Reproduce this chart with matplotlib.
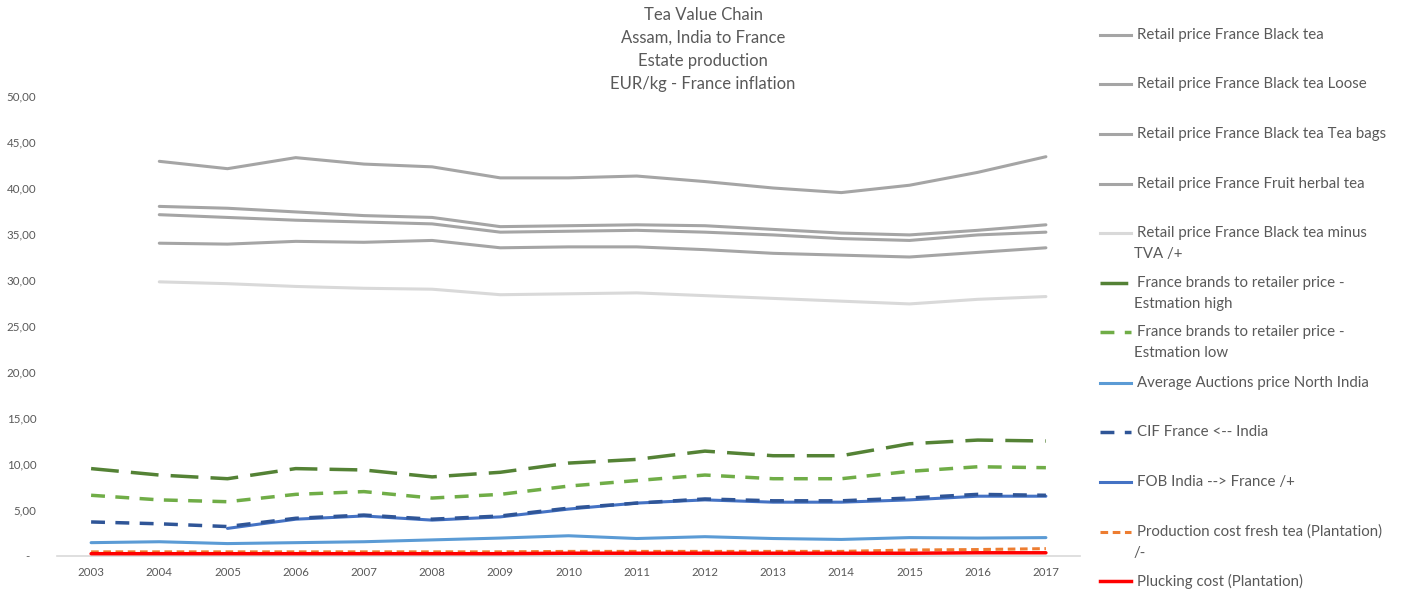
import matplotlib
matplotlib.use("Agg")
import matplotlib.pyplot as plt
from matplotlib.lines import Line2D
import numpy as np

plt.rcParams['font.family'] = ['Lato', 'DejaVu Sans']

years = [str(y) for y in range(2003, 2018)]
N = np.nan

retail_black = [N, 42.9, 42.1, 43.3, 42.6, 42.3, 41.1, 41.1, 41.3, 40.7, 40.0, 39.5, 40.3, 41.7, 43.4]
retail_loose = [N, 38.0, 37.8, 37.4, 37.0, 36.8, 35.8, 35.9, 36.0, 35.9, 35.5, 35.1, 34.9, 35.4, 36.0]
retail_bags = [N, 37.1, 36.8, 36.5, 36.3, 36.1, 35.2, 35.3, 35.4, 35.2, 34.9, 34.5, 34.3, 34.9, 35.2]
retail_fruit = [N, 34.0, 33.9, 34.2, 34.1, 34.3, 33.5, 33.6, 33.6, 33.3, 32.9, 32.7, 32.5, 33.0, 33.5]
retail_minus_tva = [N, 29.8, 29.6, 29.3, 29.1, 29.0, 28.4, 28.5, 28.6, 28.3, 28.0, 27.7, 27.4, 27.9, 28.2]
brands_high = [9.5, 8.8, 8.4, 9.5, 9.35, 8.6, 9.1, 10.1, 10.5, 11.4, 10.9, 10.9, 12.2, 12.6, 12.5]
brands_low = [6.6, 6.1, 5.9, 6.7, 7.0, 6.3, 6.7, 7.6, 8.2, 8.8, 8.4, 8.4, 9.2, 9.7, 9.6]
auctions = [1.45, 1.55, 1.35, 1.45, 1.55, 1.75, 1.95, 2.2, 1.9, 2.1, 1.9, 1.8, 2.0, 1.95, 2.0]
cif = [3.7, 3.5, 3.2, 4.1, 4.45, 4.0, 4.35, 5.2, 5.75, 6.2, 6.0, 6.0, 6.3, 6.7, 6.6]
fob = [N, N, 3.0, 4.0, 4.35, 3.9, 4.25, 5.1, 5.75, 6.1, 5.85, 5.85, 6.1, 6.5, 6.5]
production = [0.45, 0.45, 0.45, 0.45, 0.45, 0.45, 0.45, 0.5, 0.5, 0.5, 0.5, 0.5, 0.65, 0.7, 0.8]
plucking = [0.25, 0.25, 0.25, 0.25, 0.25, 0.25, 0.25, 0.3, 0.3, 0.3, 0.3, 0.3, 0.3, 0.35, 0.35]

labels = [
    "Retail price France Black tea",
    "Retail price France Black tea Loose",
    "Retail price France Black tea Tea bags",
    "Retail price France Fruit herbal tea",
    "Retail price France Black tea minus\nTVA /+",
    "France brands to retailer price -\nEstmation high",
    "France brands to retailer price -\nEstmation low",
    "Average Auctions price North India",
    "CIF France <-- India",
    "FOB India --> France /+",
    "Production cost fresh tea (Plantation)\n/-",
    "Plucking cost (Plantation)",
]
title_lines = ["Tea Value Chain", "Assam, India to France", "Estate production",
               "EUR/kg - France inflation"]
series = [retail_black, retail_loose, retail_bags, retail_fruit, retail_minus_tva,
          brands_high, brands_low, auctions, cif, fob, production, plucking]
styles = [
    dict(color="#A5A5A5", lw=2.2, ls="-"),
    dict(color="#A5A5A5", lw=2.2, ls="-"),
    dict(color="#A5A5A5", lw=2.2, ls="-"),
    dict(color="#A5A5A5", lw=2.2, ls="-"),
    dict(color="#D9D9D9", lw=2.2, ls="-"),
    dict(color="#548235", lw=2.5, ls=(0, (8, 3.5))),
    dict(color="#70AD47", lw=2.5, ls=(0, (4, 3))),
    dict(color="#5B9BD5", lw=2.2, ls="-"),
    dict(color="#2F5597", lw=2.5, ls=(0, (4, 3))),
    dict(color="#4472C4", lw=2.2, ls="-"),
    dict(color="#ED7D31", lw=2.2, ls=(0, (2.5, 1.5))),
    dict(color="#FF0000", lw=2.5, ls="-"),
]

W, H = 1407, 592
fig = plt.figure(figsize=(W / 100, H / 100), dpi=100)
ax = fig.add_axes([57 / W, 1 - 556 / H, (1080 - 57) / W, (556 - 96) / H])

x = np.arange(len(years))
draw_order = [0, 1, 2, 3, 4, 5, 6, 7, 10, 11, 8, 9]
for i in draw_order:
    ax.plot(x, series[i], zorder=3 + (1 if i == 8 else 0), solid_capstyle="round", **styles[i])

ax.set_xlim(-0.5, len(years) - 0.5)
ax.set_ylim(0, 50)
ax.set_xticks(x)
ax.set_xticklabels(years)
yt = np.arange(0, 51, 5)
ax.set_yticks(yt)
ax.set_yticklabels(["-  "] + [f"{v:.2f}".replace(".", ",") for v in yt[1:]])
for s in ["top", "right", "left"]:
    ax.spines[s].set_visible(False)
ax.spines["bottom"].set_color("#D9D9D9")
ax.spines["bottom"].set_linewidth(1.2)
ax.tick_params(axis="both", length=0, labelsize=8.3, colors="#595959")
ax.tick_params(axis="y", pad=15)
ax.tick_params(axis="x", pad=8)

for k, line in enumerate(title_lines):
    fig.text(703 / W, 1 - (15 + 23 * k) / H, line, ha="center", va="center",
             fontsize=12, color="#595959")

leg_y = [35, 84, 134, 184, 233, 283, 332, 383, 432, 482, 532, 581]
for i, (lab, st) in enumerate(zip(labels, styles)):
    yy = 1 - leg_y[i] / H
    fig.add_artist(Line2D([1100 / W, 1131 / W], [yy, yy], transform=fig.transFigure, **st))
    for k, part in enumerate(lab.split("\n")):
        xoff = 1137 if k == 0 else 1134
        fig.text(xoff / W, 1 - (leg_y[i] + 21 * k) / H, part, ha="left", va="center",
                 fontsize=10.8, color="#595959")

fig.savefig("out.png", dpi=100)
